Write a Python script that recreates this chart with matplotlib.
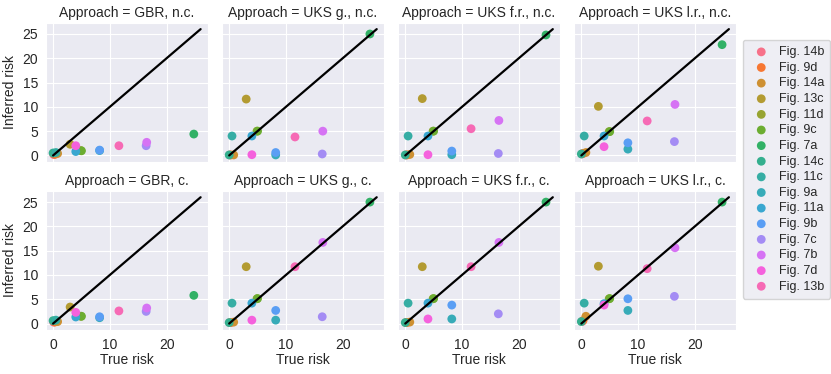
import matplotlib
matplotlib.use('Agg')
import matplotlib.pyplot as plt
import seaborn as sns

# figure names (legend order) and their true risk
names = ['Fig. 14b', 'Fig. 9d', 'Fig. 14a', 'Fig. 13c', 'Fig. 11d', 'Fig. 9c',
         'Fig. 7a', 'Fig. 14c', 'Fig. 11c', 'Fig. 9a', 'Fig. 11a', 'Fig. 9b',
         'Fig. 7c', 'Fig. 7b', 'Fig. 7d', 'Fig. 13b']
true_risk = [0.1, 0.3, 0.8, 3.0, 4.9, 5.0, 24.8, 0.0, 0.5, 8.2, 4.0, 8.2,
             16.4, 16.5, 4.0, 11.6]

# inferred risk per approach
gbr_nc = [0.2, 0.2, 0.4, 2.3, 1.0, 0.95, 4.4, 0.5, 0.6, 1.0, 0.8, 1.1, 2.0, 2.7, 2.0, 2.0]
uksg_nc = [0.1, 0.1, 0.1, 11.6, 5.0, 5.0, 25.0, 0.1, 4.0, 0.1, 4.0, 0.6, 0.3, 5.0, 0.15, 3.8]
uksfr_nc = [0.1, 0.1, 0.2, 11.7, 5.0, 5.0, 24.8, 0.1, 4.0, 0.15, 4.0, 0.9, 0.4, 7.2, 0.15, 5.5]
ukslr_nc = [0.3, 0.4, 0.6, 10.1, 4.9, 4.9, 22.8, 0.3, 4.0, 1.3, 4.0, 2.6, 2.85, 10.5, 1.8, 7.1]
gbr_c = [0.3, 0.3, 0.4, 3.4, 1.5, 1.5, 5.8, 0.6, 0.7, 1.2, 1.35, 1.4, 2.5, 3.2, 2.3, 2.6]
uksg_c = [0.2, 0.2, 0.3, 11.7, 5.1, 5.15, 25.0, 0.2, 4.2, 0.7, 4.2, 2.7, 1.4, 16.7, 0.7, 11.7]
uksfr_c = [0.2, 0.2, 0.3, 11.7, 5.1, 5.15, 25.0, 0.2, 4.2, 0.95, 4.2, 3.8, 2.0, 16.7, 0.95, 11.7]
ukslr_c = [0.4, 0.6, 1.5, 11.8, 5.1, 5.15, 25.0, 0.4, 4.2, 2.7, 4.1, 5.1, 5.6, 15.6, 3.8, 11.3]

titles = ['Approach = GBR, n.c.', 'Approach = UKS g., n.c.', 'Approach = UKS f.r., n.c.',
          'Approach = UKS l.r., n.c.', 'Approach = GBR, c.', 'Approach = UKS g., c.',
          'Approach = UKS f.r., c.', 'Approach = UKS l.r., c.']
panels = [gbr_nc, uksg_nc, uksfr_nc, ukslr_nc, gbr_c, uksg_c, uksfr_c, ukslr_c]
diag = [0, 26]

sns.set_style('darkgrid')
plt.rcParams['font.family'] = ['Liberation Sans', 'DejaVu Sans']

colors = sns.color_palette('husl', len(names))

fig, axes = plt.subplots(2, 4, figsize=(8.31, 3.74), dpi=100, sharex=True, sharey=True)
fig.subplots_adjust(left=0.055, right=0.886, top=0.939, bottom=0.118,
                    wspace=0.085, hspace=0.21)

for ax, title, vals in zip(axes.flat, titles, panels):
    for name, x, y, col in zip(names, true_risk, vals, colors):
        ax.scatter(x, y, s=40, color=col, edgecolor='none', label=name)
    ax.plot(diag, diag, color='black', lw=1.6, zorder=3)
    ax.set_title(title, fontsize=10, pad=4)
    ax.tick_params(labelsize=10, pad=2)

ax = axes[0, 0]
ax.set_xticks([0, 10, 20])
ax.set_yticks([0, 5, 10, 15, 20, 25])
for a in axes[:, 0]:
    a.set_ylabel('Inferred risk', fontsize=10)
for a in axes[1, :]:
    a.set_xlabel('True risk', fontsize=10, labelpad=1)

handles, labels = axes[0, 0].get_legend_handles_labels()
leg = fig.legend(handles, labels, loc='upper left', bbox_to_anchor=(0.886, 0.91),
                 fontsize=9, frameon=True, handletextpad=0.4, labelspacing=0.29,
                 borderpad=0.5, scatterpoints=1)
leg.get_frame().set_facecolor('#EAEAF2')
leg.get_frame().set_edgecolor('#cccccc')

fig.savefig('out.png', dpi=100)
